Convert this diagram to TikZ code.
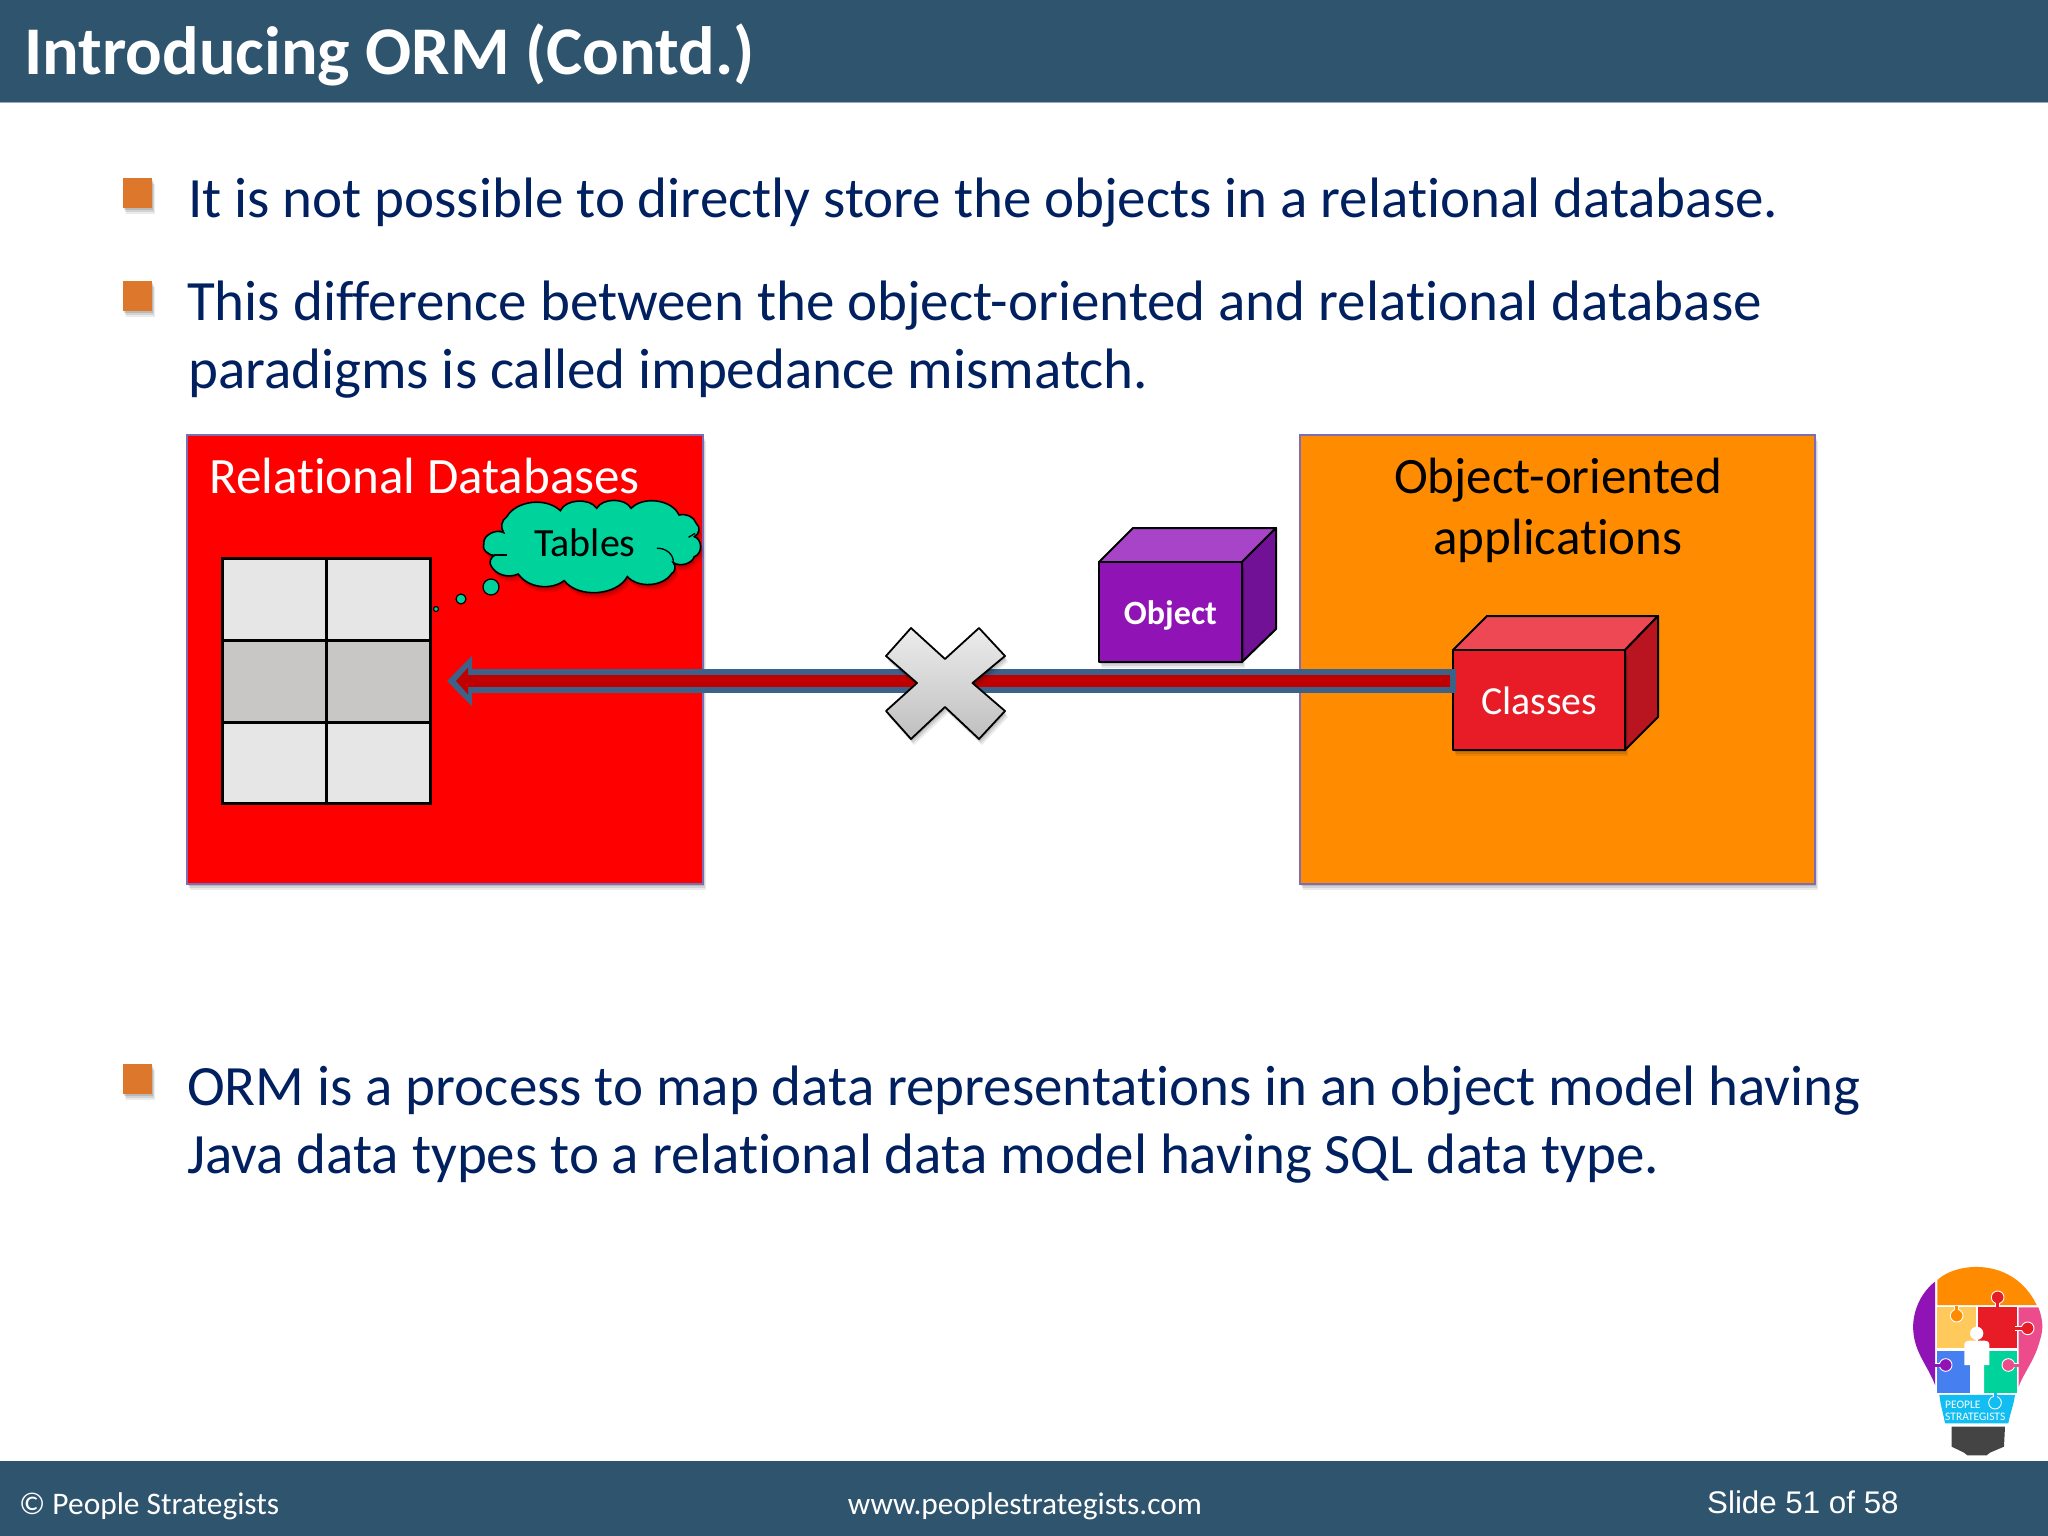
\documentclass[tikz,border=0pt]{standalone}
\usepackage{fontspec}
\setmainfont{Carlito}[Ligatures=NoCommon]
\newfontfamily\arialf{Liberation Sans}
\usetikzlibrary{arrows.meta,shadows}
\definecolor{headc}{HTML}{2F546E}
\definecolor{navy}{HTML}{002060}
\definecolor{bulletc}{HTML}{DD772C}
\definecolor{boxedge}{HTML}{7C6DB5}
\definecolor{cloudc}{HTML}{00D29B}
\definecolor{lightcell}{HTML}{E7E6E6}
\definecolor{midcell}{HTML}{C9C7C5}
\definecolor{purpF}{HTML}{9013B5}
\definecolor{purpT}{HTML}{A744C8}
\definecolor{purpS}{HTML}{711296}
\definecolor{redF}{HTML}{E71C26}
\definecolor{redT}{HTML}{EE4855}
\definecolor{redS}{HTML}{B91520}
\definecolor{steel}{HTML}{3C6289}
\definecolor{arrowred}{HTML}{C00000}
\definecolor{orangeb}{HTML}{FF8C00}
\definecolor{logoyellow}{HTML}{FFC95C}
\definecolor{logopink}{HTML}{EC4C8C}
\definecolor{logoblue}{HTML}{4680F0}
\definecolor{logocyan}{HTML}{12BDF2}
\definecolor{logodark}{HTML}{444444}
\newcommand{\logoknob}[6]{%
  \draw[white,line width=4.6pt] (#3,#4) -- (#1,#2);
  \draw[white,line width=0.9pt,fill=#5] (#1,#2) circle[radius=#6];
  \draw[#5,line width=3pt] (#3,#4) -- (#1,#2);
}
\tikzset{
  x=1pt,y=-1pt,
  softshadow/.style={
    drop shadow={shadow xshift=1pt,shadow yshift=-2pt,opacity=.12,fill=black},
    drop shadow={shadow xshift=2pt,shadow yshift=-4pt,opacity=.10,fill=black},
    drop shadow={shadow xshift=3pt,shadow yshift=-6pt,opacity=.08,fill=black}},
  bodytext/.style={anchor=base west,inner sep=0,text=navy,font=\fontsize{57}{60}\selectfont},
  titletext/.style={anchor=base west,inner sep=0,text=white,font=\fontsize{68.3}{72}\selectfont\bfseries},
  foottext/.style={inner sep=0,text=white,font=\fontsize{31.4}{34}\selectfont},
  boxtext/.style={inner sep=0,font=\fontsize{51}{55}\selectfont},
  bulletbox/.style={fill=bulletc,minimum width=29,minimum height=30,inner sep=0,outer sep=0,softshadow},
  panel/.style={draw=boxedge,line width=1.5pt,inner sep=0,outer sep=0,softshadow},
  cubeface/.style={draw=black,line width=2pt,line join=round},
  cell/.style={line width=3pt,draw=black},
  puff/.style={bend right=#1},
  puff/.default=65
}
\begin{document}
\begin{tikzpicture}
\useasboundingbox (0,0) rectangle (2048,1536);
\fill[white] (0,0) rectangle (2048,1536);
% header and footer
\fill[headc] (0,0) rectangle (2048,102);
\draw[line width=1pt,color=headc!50] (0,102.5) -- (2048,102.5);
\fill[headc] (0,1461) rectangle (2048,1536);
\node[titletext] (title) at (24,75) {Introducing ORM (Contd.)};
\node[foottext,anchor=base west] (copyr) at (19,1514) {© People Strategists};
\node[foottext,anchor=base] (web) at (1025,1514) {www.peoplestrategists.com};
\node[foottext,anchor=base west,font=\fontsize{31.3}{34}\selectfont\arialf] (slideno) at (1707,1513) {Slide 51 of 58};
% bullets
\node[bulletbox] (b1) at (137.5,193) {};
\node[bulletbox] (b2) at (137.5,296) {};
\node[bulletbox] (b3) at (137.5,1079) {};
\node[bodytext] (l1) at (188,217) {It is not possible to directly store the objects in a relational database.};
\node[bodytext] (l2) at (187,320) {This difference between the object-oriented and relational database};
\node[bodytext] (l3) at (188,388) {paradigms is called impedance mismatch.};
\node[bodytext] (l4) at (187,1105) {ORM is a process to map data representations in an object model having};
\node[bodytext] (l5) at (187,1173) {Java data types to a relational data model having SQL data type.};
% panels
\path[panel,fill=red] (187,435) rectangle (703,884);
\path[panel,fill=orangeb] (1300,435) rectangle (1815,884);
\node[boxtext,anchor=base west,text=white] (reldb) at (209,493) {Relational Databases};
\node[boxtext,anchor=base,text=black] (oo1) at (1558,493) {Object-oriented};
\node[boxtext,anchor=base,text=black] (oo2) at (1558,554) {applications};
% table
\fill[lightcell] (222,558) rectangle (431,640);
\fill[midcell] (222,640) rectangle (431,722);
\fill[lightcell] (222,722) rectangle (431,803);
\node[cell,minimum width=208,minimum height=245,inner sep=0,outer sep=0] (tablebox) at (326,680.5) {};
\draw[cell] (222,640) -- (430,640);
\draw[cell] (222,722) -- (430,722);
\draw[cell] (326,558) -- (326,803);
% cloud (traced outline)
\begin{scope}[shift={(170,420)},xscale=0.3827,yscale=0.3333]
\path[draw=black,line width=1.6pt,fill=cloudc,softshadow]
 (872,338) to[puff] (820,370) to[puff] (850,405)
 to[puff=50] (840,440) to[puff=45] (910,462) to[puff=50] (1030,482)
 to[puff=60] (1195,470) to[puff=55] (1310,462) to[puff=45] (1315,428)
 to[puff=55] (1370,410) to[puff=70] (1370,350) to[puff=55] (1375,310)
 to[puff=45] (1330,285) to[puff=60] (1205,265) to[puff=65] (1115,265)
 to[puff=65] (1020,272) to[puff=55] (880,290) to[puff=40] (872,338) -- cycle;
\draw[black,line width=1.3pt] (1272,385) to[bend left=50] (1315,428);
\draw[black,line width=1.3pt] (1355,352) -- (1372,340);
\draw[black,line width=1.3pt] (850,405) -- (880,405);
\end{scope}
\node[inner sep=0,anchor=base,font=\fontsize{40}{44}\selectfont] (tablestxt) at (585,556) {Tables};
\foreach \cx/\cy/\rr in {491/587/8,461/599/5,436/609/2.5}{
  \fill[cloudc,draw=black,line width=1.2pt] (\cx,\cy) circle[radius=\rr];
}
% object cube
\path[cubeface,fill=purpT] (1099,562) -- (1133,528) -- (1276,528) -- (1242,562) -- cycle;
\path[cubeface,fill=purpS] (1242,562) -- (1276,528) -- (1276,629) -- (1242,662) -- cycle;
\node[cubeface,fill=purpF,minimum width=143,minimum height=100,inner sep=0,outer sep=0,softshadow] (objf) at (1170.5,612) {};
\node[inner sep=0,anchor=base,text=white,font=\fontsize{34}{38}\selectfont\bfseries] (objt) at (1170.5,624) {Object};
% classes cube
\path[cubeface,fill=redT] (1453,650) -- (1487,616) -- (1658,616) -- (1625,650) -- cycle;
\path[cubeface,fill=redS] (1625,650) -- (1658,616) -- (1658,717) -- (1625,750) -- cycle;
\node[cubeface,fill=redF,minimum width=172,minimum height=100,inner sep=0,outer sep=0,softshadow] (clsf) at (1539,700) {};
\node[inner sep=0,anchor=base,text=white,font=\fontsize{39.8}{44}\selectfont] (clst) at (1539,714) {Classes};
% arrow
\coordinate (tipo) at (447,681);
\coordinate (tipi) at (456,681);
\draw[steel,line width=24pt,-{Triangle[length=25pt,width=49pt]}] ([xshift=3pt]clsf.west |- tipo) -- (tipo);
\draw[arrowred,line width=12pt,-{Triangle[length=12pt,width=26pt]}] ([xshift=-3pt]clsf.west |- tipi) -- (tipi);
% cross
\path[draw=black,line width=1.8pt,line join=round,top color=gray!15,bottom color=gray!50,softshadow]
 (911,628) -- (945,659) -- (979,628) -- (1005,656) -- (972.5,683) -- (1005,711) -- (979,739)
 -- (945,707) -- (911,739) -- (886,711) -- (917,683) -- (886,656) -- cycle;
% logo
\begin{scope}[shift={(1880,1250)},scale=0.3333]
\fill[purpF] (165,95) .. controls (120,130) and (95,190) .. (100,245) .. controls (105,310) and (145,350) .. (165,405) -- cycle;
\fill[orangeb] (172,90) .. controls (230,35) and (400,20) .. (470,165) -- (172,165) -- cycle;
\fill[logoyellow] (172,172) rectangle (288,295);
\fill[redF] (295,172) rectangle (410,295);
\fill[logopink] (416,172) -- (475,172) .. controls (490,210) and (490,240) .. (480,270) .. controls (465,330) and (430,370) .. (416,410) -- cycle;
\fill[logoblue] (172,302) rectangle (270,428);
\fill[cloudc] (312,302) rectangle (410,428);
\fill[logocyan] (178,435) -- (405,435) .. controls (400,470) and (390,490) .. (385,520) -- (195,520) .. controls (190,490) and (182,470) .. (178,435) -- cycle;
\logoknob{353}{142}{353}{172}{redF}{19}
\logoknob{230}{197}{230}{168}{orangeb}{19}
\logoknob{443}{235}{406}{235}{redF}{19}
\logoknob{197}{345}{165}{345}{purpF}{19}
\logoknob{385}{345}{416}{345}{logopink}{19}
\logoknob{345}{458}{345}{430}{logocyan}{19}
\fill[white] (253,285) .. controls (253,275) and (260,272) .. (270,272) -- (312,272) .. controls (322,272) and (328,275) .. (328,285) -- (328,345) -- (312,345) -- (312,428) -- (270,428) -- (270,345) -- (253,345) -- cycle;
\fill[white] (290,250) circle[radius=20];
\fill[logodark] (215,530) -- (375,530) -- (372,590) -- (330,608) -- (320,616) -- (262,616) -- (252,608) -- (215,590) -- cycle;
\end{scope}
\node[inner sep=0,anchor=base west,text=white,font=\fontsize{11.5}{13}\selectfont] (lg1) at (1945,1408) {PEOPLE};
\node[inner sep=0,anchor=base west,text=white,font=\fontsize{11.5}{13}\selectfont] (lg2) at (1945,1420) {STRATEGISTS};
\end{tikzpicture}
\end{document}
